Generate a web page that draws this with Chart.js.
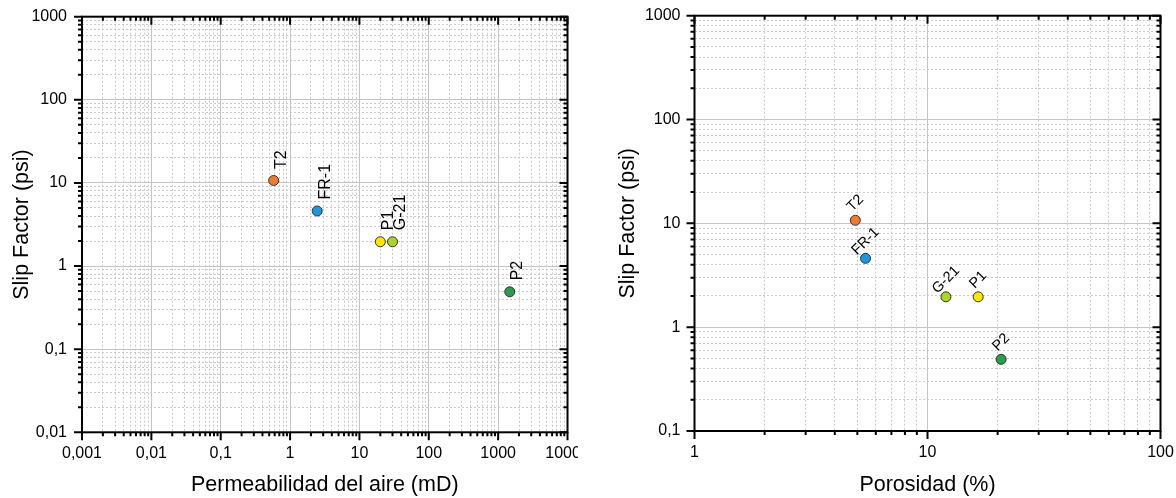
<!DOCTYPE html>
<html>
<head>
<meta charset="utf-8">
<script src="https://cdn.jsdelivr.net/npm/chart.js@4.4.0/dist/chart.umd.min.js"></script>
<style>
  html, body { margin: 0; padding: 0; background: #fff; }
  #wrap  { position: relative; width: 1176px; height: 498px; overflow: hidden; }
  canvas { position: absolute; top: 0; }
  #left  { left: 0; }
  #right { left: 578px; }
</style>
</head>
<body>
<div id="wrap">
  <canvas id="left" width="578" height="498"></canvas>
  <canvas id="right" width="598" height="498"></canvas>
</div>
<script>
// ── Data ──
const samples      = ['T2', 'FR-1', 'P1', 'G-21', 'P2'];
const permeability = [0.58, 2.46, 20, 30, 1470];     // mD
const porosity     = [4.9, 5.42, 16.5, 12.0, 20.7];  // %
const slipFactor   = [10.7, 4.6, 1.96, 1.96, 0.49];  // psi

const permTicks       = [0.001, 0.01, 0.1, 1, 10, 100, 1000, 10000];
const permTickLabels  = ['0,001', '0,01', '0,1', '1', '10', '100', '1000', '10000'];
const slipTicksA      = [0.01, 0.1, 1, 10, 100, 1000];
const slipTickLabelsA = ['0,01', '0,1', '1', '10', '100', '1000'];
const porTicks        = [1, 10, 100];
const porTickLabels   = ['1', '10', '100'];
const slipTicksB      = [0.1, 1, 10, 100, 1000];
const slipTickLabelsB = ['0,1', '1', '10', '100', '1000'];

const pointColors = ['#f47a30', '#1a98de', '#ffe600', '#a8d62c', '#2a9d4a'];
const FONT = "'Liberation Sans', Arial, sans-serif";

// ── Helpers ──
function withMinors(majors) {
  const out = [];
  majors.forEach((m, i) => {
    out.push({ value: m, major: true });
    if (i < majors.length - 1) {
      for (let k = 2; k <= 9; k++) out.push({ value: +(k * m).toPrecision(3), major: false });
    }
  });
  return out;
}

function logAxis(o) {
  return {
    type: 'logarithmic',
    position: o.position,
    min: o.majors[0],
    max: o.majors[o.majors.length - 1],
    afterBuildTicks: s => { s.ticks = withMinors(o.majors); },
    afterFit: s => {
      if (o.position === 'left') s.width = o.size; else s.height = o.size;
      s.paddingLeft = s.paddingRight = s.paddingTop = s.paddingBottom = 0;
    },
    ticks: {
      autoSkip: false, maxRotation: 0, minRotation: 0,
      padding: o.labelPad,
      color: '#000',
      font: { family: FONT, size: 16 },
      callback: v => {
        const i = o.majors.findIndex(m => Math.abs(m - v) / m < 1e-6);
        return i >= 0 ? o.labels[i] : '';
      },
    },
    grid: {
      drawTicks: false,
      lineWidth: 1,
      color: c => (c.tick && c.tick.major) ? '#c4c4c4' : '#cacaca',
    },
    border: { display: false, dash: c => (c.tick && c.tick.major) ? [] : [2, 2] },
    title: {
      display: true, text: o.title, color: '#000',
      font: { family: FONT, size: 21.5 }, padding: o.titlePad,
    },
  };
}

// ── Plugins ──
const frameTicks = {
  id: 'frameTicks',
  afterDraw(chart) {
    const { ctx, chartArea: a, scales: { x, y } } = chart;
    ctx.save();
    ctx.strokeStyle = '#000';
    ctx.lineWidth = 2;
    ctx.beginPath();
    x.ticks.forEach(t => {
      const px = x.getPixelForValue(t.value);
      const len = t.major ? 8 : 4;
      ctx.moveTo(px, a.bottom); ctx.lineTo(px, a.bottom + len);  // out
      ctx.moveTo(px, a.top);    ctx.lineTo(px, a.top + len);     // in
    });
    y.ticks.forEach(t => {
      const py = y.getPixelForValue(t.value);
      const len = t.major ? 8 : 4;
      ctx.moveTo(a.left, py);  ctx.lineTo(a.left - len, py);
      ctx.moveTo(a.right, py); ctx.lineTo(a.right - len, py);
    });
    ctx.stroke();
    ctx.strokeRect(a.left, a.top, a.right - a.left, a.bottom - a.top);
    ctx.restore();
  }
};

const pointNames = {
  id: 'pointNames',
  afterDatasetsDraw(chart, args, opts) {
    const { ctx } = chart;
    const meta = chart.getDatasetMeta(0);
    ctx.save();
    ctx.fillStyle = '#000';
    ctx.font = `${opts.size}px ${FONT}`;
    meta.data.forEach((pt, i) => {
      ctx.save();
      if (opts.vertical) {
        ctx.translate(pt.x + 12.5, pt.y - 11.5);
        ctx.rotate(-Math.PI / 2);
        ctx.textAlign = 'left';
        ctx.textBaseline = 'alphabetic';
      } else {
        ctx.translate(pt.x, pt.y - 17);
        ctx.rotate(-Math.PI / 4);
        ctx.textAlign = 'center';
        ctx.textBaseline = 'middle';
      }
      ctx.fillText(samples[i], 0, 0);
      ctx.restore();
    });
    ctx.restore();
  }
};

// ── Chart builder ──
function scatterChart(id, xs, cfg) {
  return new Chart(document.getElementById(id), {
    type: 'scatter',
    data: {
      datasets: [{
        data: xs.map((v, i) => ({ x: v, y: slipFactor[i] })),
        pointRadius: 5,
        pointHoverRadius: 5,
        pointBorderWidth: 1,
        pointBorderColor: '#333',
        pointBackgroundColor: pointColors,
      }],
    },
    options: {
      responsive: false,
      animation: false,
      layout: { padding: cfg.padding },
      plugins: {
        legend: { display: false },
        tooltip: { enabled: false },
        pointNames: cfg.names,
      },
      scales: { x: cfg.x, y: cfg.y },
    },
    plugins: [pointNames, frameTicks],
  });
}

scatterChart('left', permeability, {
  padding: { left: 0, top: 16.7, right: 10.5, bottom: 0 },
  names: { vertical: true, size: 16 },
  x: logAxis({ position: 'bottom', majors: permTicks, labels: permTickLabels,
               title: 'Permeabilidad del aire (mD)', size: 65.7, labelPad: 12,
               titlePad: { top: 0, bottom: 0 } }),
  y: logAxis({ position: 'left', majors: slipTicksA, labels: slipTickLabelsA,
               title: 'Slip Factor (psi)', size: 82, labelPad: 15,
               titlePad: { top: 9.4, bottom: 0 } }),
});

scatterChart('right', porosity, {
  padding: { left: 0, top: 15.7, right: 15.5, bottom: 0 },
  names: { vertical: false, size: 14.5 },
  x: logAxis({ position: 'bottom', majors: porTicks, labels: porTickLabels,
               title: 'Porosidad (%)', size: 67, labelPad: 12,
               titlePad: { top: 0, bottom: 0 } }),
  y: logAxis({ position: 'left', majors: slipTicksB, labels: slipTickLabelsB,
               title: 'Slip Factor (psi)', size: 116.5, labelPad: 14,
               titlePad: { top: 37.4, bottom: 0 } }),
});
</script>
</body>
</html>
